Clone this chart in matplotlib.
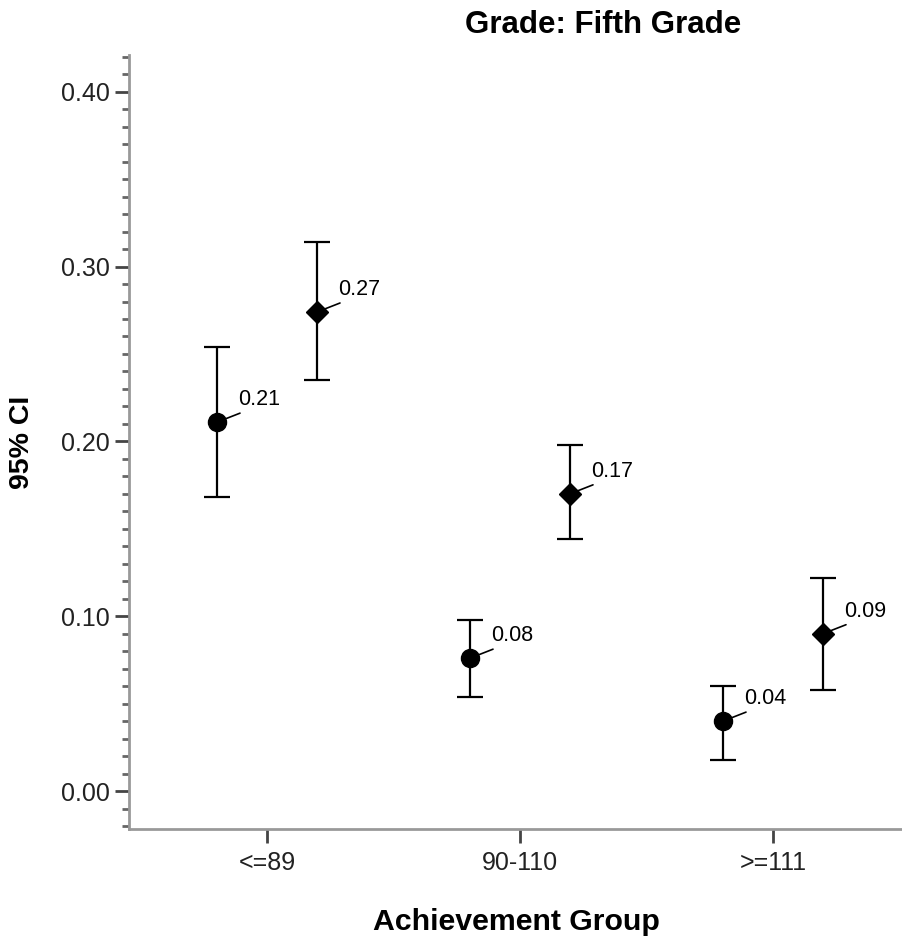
import numpy as np
import matplotlib
matplotlib.use("Agg")
import matplotlib.pyplot as plt
from matplotlib.ticker import MultipleLocator, FormatStrFormatter

plt.rcParams['font.family'] = ['Liberation Sans', 'DejaVu Sans']

# data
groups = ['<=89', '90-110', '>=111']
circ_mean = [0.211, 0.076, 0.040]
circ_low = [0.168, 0.054, 0.018]
circ_high = [0.254, 0.098, 0.060]
diam_mean = [0.274, 0.170, 0.090]
diam_low = [0.235, 0.144, 0.058]
diam_high = [0.314, 0.198, 0.122]

W, H = 903, 940
fig = plt.figure(figsize=(W / 100, H / 100), dpi=100)
ax = fig.add_axes([129 / W, 1 - 829 / H, (903 - 129) / W, (829 - 55) / H])

x = np.arange(len(groups))
off = 50 / 253
px = 72 / 100  # pixels -> points

def draw(xs, mean, low, high, marker, ms):
    mean = np.array(mean)
    yerr = [mean - np.array(low), np.array(high) - mean]
    ax.errorbar(xs, mean, yerr=yerr, fmt=marker, color='black', ms=ms,
                ecolor='black', elinewidth=1.6, capsize=9.5, capthick=1.6, zorder=3)
    for xi, m in zip(xs, mean):
        # short leader stroke plus value label
        ax.annotate('', xy=(xi, m), xytext=(23 * px, 9 * px), textcoords='offset points',
                    arrowprops=dict(arrowstyle='-', color='black', lw=1.2,
                                    shrinkA=0, shrinkB=0))
        ax.annotate(f'{m:.2f}', xy=(xi, m), xytext=(21 * px, 17 * px),
                    textcoords='offset points', fontsize=15.5, ha='left', va='baseline')

draw(x - off, circ_mean, circ_low, circ_high, 'o', 13)
draw(x + off, diam_mean, diam_low, diam_high, 'D', 11.5)

ax.set_xlim(-138 / 253, 2 + 130 / 253)
ax.set_ylim(-0.0217, 0.421)
ax.set_xticks(x)
ax.set_xticklabels(groups)
ax.yaxis.set_major_locator(MultipleLocator(0.1))
ax.yaxis.set_minor_locator(MultipleLocator(0.01))
ax.yaxis.set_major_formatter(FormatStrFormatter('%.2f'))

for s in ['top', 'right']:
    ax.spines[s].set_visible(False)
for s in ['left', 'bottom']:
    ax.spines[s].set_color('#999999')
    ax.spines[s].set_linewidth(2)

ax.tick_params(axis='both', which='major', labelsize=18, color='#444444', width=2,
               length=10, direction='out', pad=4, labelcolor='#222222')
ax.tick_params(axis='y', which='minor', color='#666666', width=2, length=5)
ax.tick_params(axis='x', length=10, pad=6)

fig.text(22 / W, 1 - 442 / H, '95% CI', fontsize=20.5, fontweight='bold',
         rotation=90, ha='center', va='center')
fig.text(516 / W, 1 - 930 / H, 'Achievement Group', fontsize=21.8, fontweight='bold',
         ha='center', va='baseline')
fig.text(603 / W, 1 - 25 / H, 'Grade: Fifth Grade', fontsize=22.5, fontweight='bold',
         ha='center', va='center')

fig.savefig('out.png', dpi=100)
